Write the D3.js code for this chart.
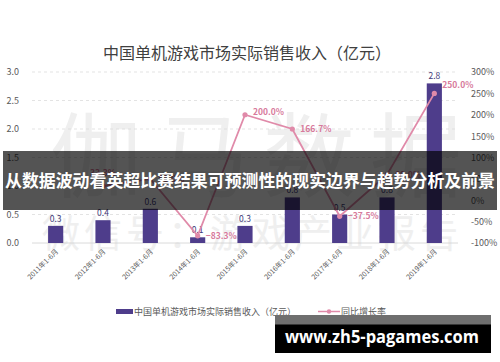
<!DOCTYPE html>
<html>
<head>
    <meta charset="utf-8">
    <title>中国单机游戏市场实际销售收入</title>
    <style>
        body {
            margin: 0;
            background: #fff;
            font-family: "Noto Sans CJK SC", "Noto Sans", sans-serif;
        }
        svg text { font-family: "Noto Sans CJK SC", "Noto Sans", sans-serif; }
    </style>
</head>
<body>
    <div id="chart"></div>

    <script src="https://d3js.org/d3.v7.min.js"></script>
    <script>
    // Data
    const categories = ["2011年1-6月", "2012年1-6月", "2013年1-6月", "2014年1-6月", "2015年1-6月",
                        "2016年1-6月", "2017年1-6月", "2018年1-6月", "2019年1-6月"];
    const revenue = [0.3, 0.4, 0.6, 0.1, 0.3, 0.8, 0.5, 0.8, 2.8];
    const growth = [null, 33.3, 50.0, -83.3, 200.0, 166.7, -37.5, 60.0, 250.0];
    const leftTicks = [0, 0.5, 1.0, 1.5, 2.0, 2.5, 3.0];
    const rightTicks = [-100, -50, 0, 50, 100, 150, 200, 250, 300];

    const W = 500, H = 362;
    const margin = {top: 72, right: 42, bottom: 119, left: 32};

    const svg = d3.select("#chart").append("svg")
        .attr("width", W)
        .attr("height", H);

    // Scales
    const x = d3.scaleBand()
        .domain(categories)
        .range([margin.left, W - margin.right])
        .paddingInner(0.68)
        .paddingOuter(0.34);

    const yL = d3.scaleLinear().domain([0, 3]).range([H - margin.bottom, margin.top]);
    const yR = d3.scaleLinear().domain([-100, 300]).range([H - margin.bottom, margin.top]);

    // Watermark
    svg.append("text")
        .attr("x", 50).attr("y", 190)
        .attr("textLength", 412)
        .attr("lengthAdjust", "spacing")
        .attr("fill", "#efefef")
        .style("font-size", "92px")
        .text("伽马数据");
    svg.append("text")
        .attr("x", 42).attr("y", 247)
        .attr("textLength", 416)
        .attr("lengthAdjust", "spacing")
        .attr("fill", "#efefef")
        .style("font-size", "38px")
        .text("微信号：游戏产业报告");

    // Title
    svg.append("text")
        .attr("x", 247).attr("y", 59)
        .attr("text-anchor", "middle")
        .attr("fill", "#404040")
        .style("font-size", "16px")
        .text("中国单机游戏市场实际销售收入（亿元）");

    // Gridlines
    svg.append("g").selectAll("line")
        .data(leftTicks)
        .join("line")
        .attr("x1", margin.left).attr("x2", W - margin.right)
        .attr("y1", d => yL(d)).attr("y2", d => yL(d))
        .attr("stroke", d => d === 0 ? "#d0d0d0" : "#dcdcdc")
        .attr("stroke-dasharray", d => d === 0 ? null : "3 3")
        .attr("stroke-width", 0.8);

    // Left axis
    const axL = svg.append("g")
        .attr("transform", `translate(${margin.left - 10},0)`)
        .call(d3.axisLeft(yL).tickValues(leftTicks).tickSize(0).tickFormat(d3.format(".1f")));
    axL.select(".domain").remove();
    axL.selectAll("text").attr("fill", "#595959").style("font-size", "9px");

    // Right axis
    const axR = svg.append("g")
        .attr("transform", `translate(${W - margin.right + 10},0)`)
        .call(d3.axisRight(yR).tickValues(rightTicks).tickSize(0).tickFormat(d => d + "%"));
    axR.select(".domain").remove();
    axR.selectAll("text").attr("fill", "#595959").style("font-size", "9px");

    // X labels, rotated
    svg.append("g").selectAll("text")
        .data(categories)
        .join("text")
        .attr("transform", d => `translate(${x(d) + x.bandwidth() / 2 + 3},${yL(0) + 9}) rotate(-45)`)
        .attr("text-anchor", "end")
        .attr("fill", "#595959")
        .style("font-size", "7px")
        .text(d => d);

    // Bars
    svg.append("g").selectAll("rect")
        .data(revenue)
        .join("rect")
        .attr("x", (d, i) => x(categories[i]))
        .attr("y", d => yL(d))
        .attr("width", x.bandwidth())
        .attr("height", d => yL(0) - yL(d))
        .attr("fill", "#4e3d8b");

    svg.append("g").selectAll("text")
        .data(revenue)
        .join("text")
        .attr("x", (d, i) => x(categories[i]) + x.bandwidth() / 2)
        .attr("y", d => yL(d) - 4)
        .attr("text-anchor", "middle")
        .attr("fill", "#3f3a78")
        .style("font-size", "8.5px")
        .text(d => d3.format(".1f")(d));

    // Growth line
    const pts = growth.map((g, i) => ({g, c: categories[i]})).filter(p => p.g !== null);
    const cx = p => x(p.c) + x.bandwidth() / 2;
    const pink = "#e08aa9";

    svg.append("path")
        .datum(pts)
        .attr("fill", "none")
        .attr("stroke", pink)
        .attr("stroke-width", 1.8)
        .attr("d", d3.line().x(cx).y(p => yR(p.g)));

    svg.append("g").selectAll("circle")
        .data(pts)
        .join("circle")
        .attr("cx", cx)
        .attr("cy", p => yR(p.g))
        .attr("r", 2.6)
        .attr("fill", pink);

    svg.append("g").selectAll("text")
        .data(pts)
        .join("text")
        .attr("x", p => p.c === categories[1] ? cx(p) : cx(p) + 8)
        .attr("y", p => p.c === categories[1] ? yR(p.g) - 10 : yR(p.g) + (p.g === 250 ? -5 : p.g === 200 ? 0 : 3))
        .attr("text-anchor", p => p.c === categories[1] ? "middle" : "start")
        .attr("fill", "#d77a9c")
        .style("font-size", "8.5px")
        .style("font-weight", "bold")
        .text(p => d3.format(".1f")(p.g) + "%");

    // Legend
    const lg = svg.append("g");
    lg.append("rect")
        .attr("x", 116).attr("y", 309)
        .attr("width", 17).attr("height", 5)
        .attr("fill", "#4e3d8b");
    lg.append("text")
        .attr("x", 134).attr("y", 315)
        .attr("fill", "#595959")
        .style("font-size", "9px")
        .text("中国单机游戏市场实际销售收入（亿元）");
    lg.append("line")
        .attr("x1", 318).attr("x2", 340)
        .attr("y1", 311.5).attr("y2", 311.5)
        .attr("stroke", pink).attr("stroke-width", 1.5);
    lg.append("circle")
        .attr("cx", 329).attr("cy", 311.5).attr("r", 2.2).attr("fill", pink);
    lg.append("text")
        .attr("x", 341).attr("y", 315)
        .attr("fill", "#595959")
        .style("font-size", "9px")
        .text("同比增长率");

    // Overlay banner
    svg.append("rect")
        .attr("x", 3).attr("y", 151)
        .attr("width", 494).attr("height", 59)
        .attr("fill", "rgba(0,0,0,0.67)");
    svg.append("text")
        .attr("x", 250).attr("y", 187)
        .attr("text-anchor", "middle")
        .attr("textLength", 490)
        .attr("lengthAdjust", "spacingAndGlyphs")
        .attr("fill", "#fff")
        .style("font-size", "17px")
        .style("font-weight", "bold")
        .text("从数据波动看英超比赛结果可预测性的现实边界与趋势分析及前景");

    // URL banner
    svg.append("rect")
        .attr("x", 275).attr("y", 315)
        .attr("width", 216).attr("height", 10)
        .attr("fill", "#6f6f6f");
    svg.append("rect")
        .attr("x", 275).attr("y", 324.5)
        .attr("width", 216).attr("height", 28.5)
        .attr("fill", "#000");
    svg.append("text")
        .attr("x", 285).attr("y", 343)
        .attr("textLength", 194)
        .attr("lengthAdjust", "spacingAndGlyphs")
        .attr("fill", "#fff")
        .style("font-family", "'Open Sans', sans-serif")
        .style("font-size", "17px")
        .style("font-weight", "bold")
        .text("www.zh5-pagames.com");
    </script>
</body>
</html>
